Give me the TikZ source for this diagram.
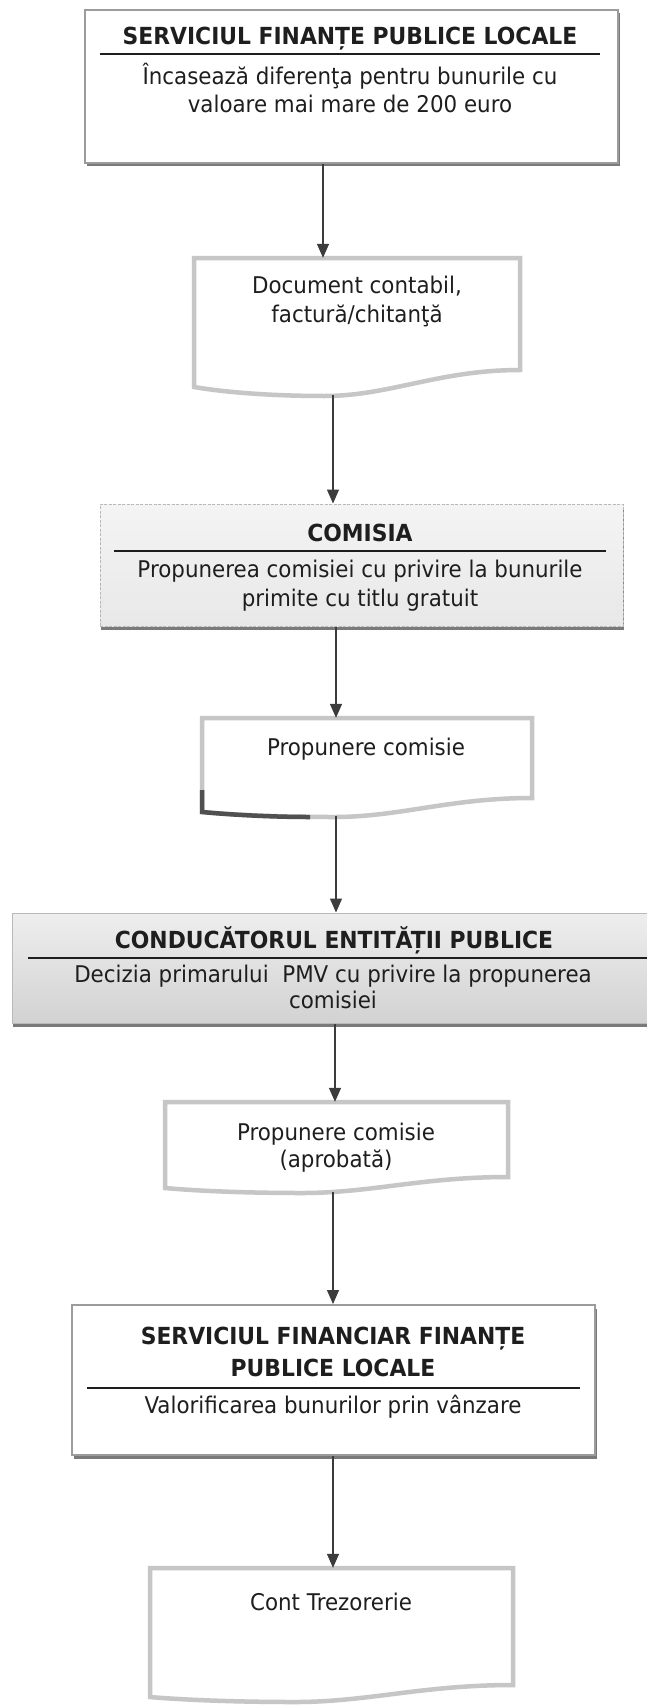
\documentclass[tikz,border=0pt]{standalone}
\usepackage{fontspec}
\setmainfont[FakeStretch=0.93]{DejaVu Sans}
\usetikzlibrary{calc,arrows.meta,shadows}
\definecolor{docgray}{HTML}{C6C6C6}
\definecolor{boxgray}{HTML}{9C9C9C}
\definecolor{arrowgray}{HTML}{3C3C3C}
\definecolor{shadowgray}{HTML}{7A7A7A}
\definecolor{txt}{HTML}{1E1E1E}
\definecolor{darkedge}{HTML}{505050}
\definecolor{comtop}{HTML}{F4F4F4}
\definecolor{combot}{HTML}{E8E8E8}
\definecolor{contop}{HTML}{EEEEEE}
\definecolor{conbot}{HTML}{D2D2D2}
\tikzset{
 flowarrow/.style={draw=arrowgray, line width=1.3pt, -{Triangle[length=14pt,width=12pt]}},
 frame/.style={rectangle, inner sep=0pt, draw=boxgray, line width=2pt, fill=white,
   drop shadow={shadow xshift=1.5pt, shadow yshift=-3.5pt, fill=shadowgray, opacity=1}},
 greyframe/.style 2 args={rectangle, inner sep=0pt, draw=gray!55, line width=1pt, top color=#1, bottom color=#2,
   drop shadow={shadow xshift=1pt, shadow yshift=-4pt, fill=shadowgray, opacity=1}},
 docarea/.style={rectangle, inner sep=0pt},
 doc/.style={draw=docgray, line width=4.5pt, fill=white, line join=miter},
 ttl/.style={inner sep=0pt, anchor=base, font=\fontsize{23.5}{31.5}\selectfont\bfseries, text=txt, align=center},
 bdy/.style={inner sep=0pt, anchor=base, font=\fontsize{23}{28.5}\selectfont, text=txt, align=center},
 sepline/.style={draw=txt, line width=1.6pt},
}
% #1 left, #2 right, #3 top, #4 right-bottom, #5 drop at left, #6 extra depth
\newcommand{\docoutline}[6]{%
 \pgfmathsetmacro{\dcW}{#2-#1}%
 \pgfmathsetmacro{\dcA}{#2-0.25*\dcW}%
 \pgfmathsetmacro{\dcB}{#1+0.6*\dcW}%
 \pgfmathsetmacro{\dcM}{#1+0.4*\dcW}%
 \pgfmathsetmacro{\dcC}{#1+0.22*\dcW}%
 \pgfmathsetmacro{\dcD}{#1+0.08*\dcW}%
 \pgfmathsetmacro{\dcYm}{#4+#5+#6}%
 \pgfmathsetmacro{\dcYl}{#4+#5}%
 \pgfmathsetmacro{\dcYd}{#4+#5+0.5*#6}%
 \draw[doc] (#1,#3) -- (#2,#3) -- (#2,#4) .. controls (\dcA,#4) and (\dcB,\dcYm) .. (\dcM,\dcYm)
   .. controls (\dcC,\dcYm) and (\dcD,\dcYd) .. (#1,\dcYl) -- cycle;}
\begin{document}
\begin{tikzpicture}[x=1pt,y=-1pt]
\useasboundingbox (0,0) rectangle (647,1707);
\fill[white] (0,0) rectangle (647,1707);

% ---------- box 1
\node[frame, minimum width=533pt, minimum height=153pt] (b1) at (351.5,86.5) {};
\node[ttl] (t1) at (350,45) {SERVICIUL FINANȚE PUBLICE LOCALE};
\draw[sepline] (100,54) -- (600,54);
\node[bdy] (s1) at (350,113) {Încasează diferenţa pentru bunurile cu\\valoare mai mare de 200 euro};

% ---------- doc 2
\docoutline{194}{520}{258}{370}{17}{9}
\node[docarea, minimum width=326pt, minimum height=112pt] (d2) at (357,314) {};
\node[bdy] (x2) at (357,322) {Document contabil,\\factură/chitanţă};

% ---------- box 3
\node[greyframe={comtop}{combot}, dash pattern=on 3pt off 1.5pt, minimum width=523pt, minimum height=122pt] (b3) at (361.5,565) {};
\node[ttl] (t3) at (360,541) {COMISIA};
\draw[sepline] (114,551) -- (606,551);
\node[bdy] (s3) at (360,606) {Propunerea comisiei cu privire la bunurile\\primite cu titlu gratuit};

% ---------- doc 4
\docoutline{202}{532}{718}{798}{14}{5}
\draw[darkedge, line width=4.5pt] (310,817) .. controls (270,817) and (228,814.5) .. (202,812) -- (202,790);
\node[docarea, minimum width=330pt, minimum height=80pt] (d4) at (367,758) {};
\node[bdy] (x4) at (366,755) {Propunere comisie};

% ---------- box 5
\node[greyframe={contop}{conbot}, minimum width=678pt, minimum height=110pt] (b5) at (351,968) {};
\node[ttl] (t5) at (334,948) {CONDUCĂTORUL ENTITĂȚII PUBLICE};
\draw[sepline] (28,958) -- (647,958);
\node[bdy, font=\fontsize{23}{26}\selectfont] (s5) at (333,1008) {Decizia primarului\ \ PMV cu privire la propunerea\\comisiei};

% ---------- doc 6
\docoutline{165}{508}{1102}{1177}{11}{5}
\node[docarea, minimum width=343pt, minimum height=75pt] (d6) at (336.5,1139.5) {};
\node[bdy, font=\fontsize{23}{27}\selectfont] (x6) at (336,1167) {Propunere comisie\\(aprobată)};

% ---------- box 7
\node[frame, minimum width=523pt, minimum height=150pt] (b7) at (333.5,1380) {};
\node[ttl] (t7) at (333,1376) {SERVICIUL FINANCIAR FINANȚE\\PUBLICE LOCALE};
\draw[sepline] (87,1388) -- (580,1388);
\node[bdy] (s7) at (333,1413) {Valorificarea bunurilor prin vânzare};

% ---------- doc 8
\docoutline{150}{513}{1568}{1685}{12}{5}
\node[docarea, minimum width=363pt, minimum height=117pt] (d8) at (331.5,1626.5) {};
\node[bdy] (x8) at (331,1610) {Cont Trezorerie};

% ---------- connectors
\coordinate (c1) at (323,0);
\coordinate (d2out) at (333,395);
\coordinate (c3) at (336,0);
\coordinate (d4out) at (336,816);
\coordinate (c5) at (335,0);
\coordinate (d6out) at (333,1192);
\coordinate (c7) at (333,0);
\draw[flowarrow] (b1.south -| c1) -- (d2.north -| c1);
\draw[flowarrow] (d2out) -- (b3.north -| d2out);
\draw[flowarrow] (b3.south -| c3) -- (d4.north -| c3);
\draw[flowarrow] (d4out) -- (b5.north -| d4out);
\draw[flowarrow] (b5.south -| c5) -- (d6.north -| c5);
\draw[flowarrow] (d6out) -- (b7.north -| d6out);
\draw[flowarrow] (b7.south -| c7) -- (d8.north -| c7);
\end{tikzpicture}
\end{document}
